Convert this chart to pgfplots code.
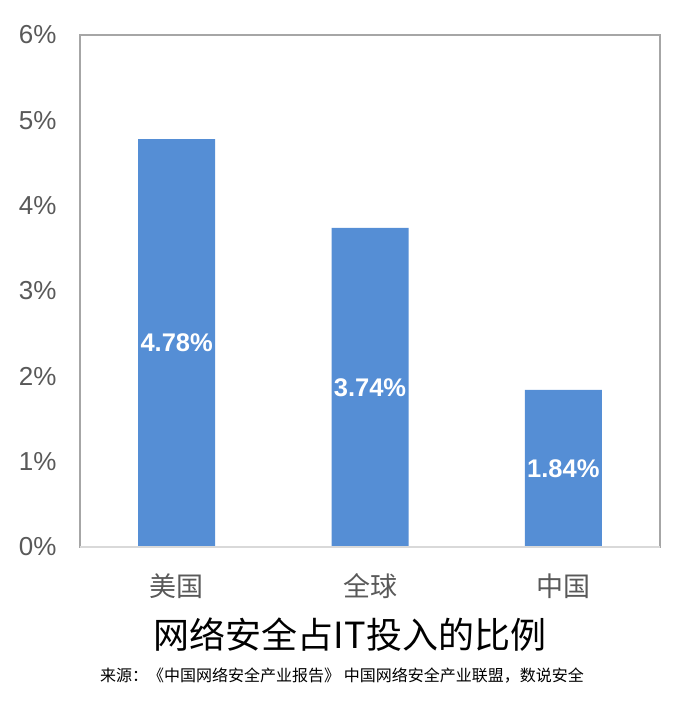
\documentclass[border=0pt]{standalone}
\usepackage{fontspec}
\setmainfont{Liberation Sans}
\newfontfamily\cjk{Noto Sans CJK SC}
\usepackage{pgfplots}
\pgfplotsset{compat=1.18}
\definecolor{barblue}{HTML}{558ED5}
\definecolor{framegray}{HTML}{A6A6A6}
\definecolor{basegray}{HTML}{D9D9D9}
\definecolor{ticktext}{HTML}{595959}
\begin{document}
\begin{tikzpicture}
\path[use as bounding box] (-80pt,-161pt) rectangle (608pt,547pt);
\begin{axis}[
    at={(0,0)}, anchor=south west,
    scale only axis,
    width=580pt, height=512pt,
    xmin=-0.5, xmax=2.5,
    ymin=0, ymax=6,
    ytick={0,1,...,6},
    yticklabel={\pgfmathprintnumber{\tick}\%},
    xtick={0,1,2},
    xticklabels={美国,全球,中国},
    major tick length=0pt,
    axis line style={draw=framegray, line width=2pt},
    /pgf/number format/assume math mode=true,
    yticklabel style={font=\fontsize{26}{26}\selectfont, text=ticktext, xshift=-20pt},
    xticklabel style={font=\cjk\fontsize{27}{27}\selectfont, text=ticktext, yshift=-23pt},
    clip=false,
]
\addplot[ybar, bar width=77pt, fill=barblue, draw=none] coordinates {
    (0,4.78) (1,3.74) (2,1.84)
};
\addplot[only marks, mark=none, draw=none, point meta=explicit symbolic,
    nodes near coords,
    every node near coord/.style={anchor=center, text=white,
        font=\bfseries\fontsize{25.5}{25.5}\selectfont}]
    coordinates {
    (0,2.39) [4.78\%]
    (1,1.87) [3.74\%]
    (2,0.92) [1.84\%]
};
\draw[basegray, line width=2pt] (rel axis cs:0,0) -- (rel axis cs:1,0);
\end{axis}
\node[font=\cjk\fontsize{36}{36}\selectfont, text=black] at (270pt,-88pt) {网络安全占IT投入的比例};
\node[font=\cjk\fontsize{16}{16}\selectfont, text=black] at (262pt,-129pt) {来源：《中国网络安全产业报告》 中国网络安全产业联盟，数说安全};
\end{tikzpicture}
\end{document}
